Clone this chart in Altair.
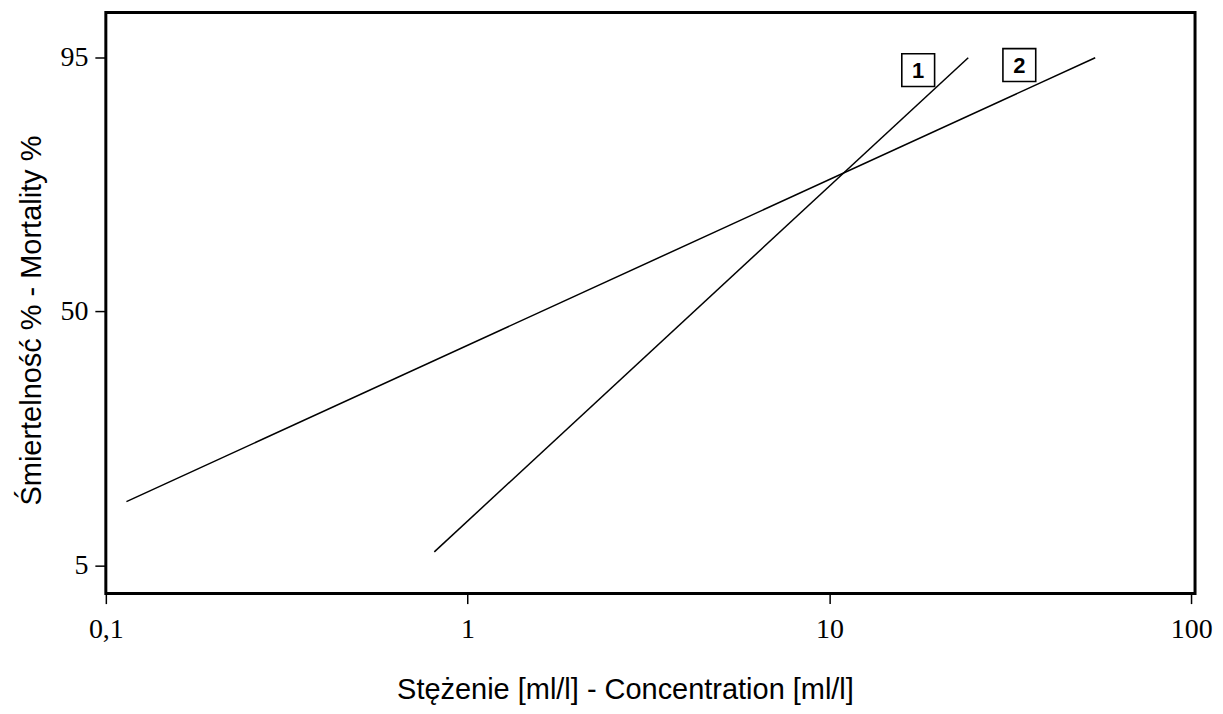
import altair as alt
import pandas as pd

# Data
series = ["1", "1", "2", "2"]
conc = [0.809, 24.2, 0.114, 54.3]
mortality = [7.4, 95.0, 16.3, 95.0]

label_text = ["1", "2"]
label_conc = [17.6, 33.5]
label_mort = [92.8, 93.7]

x_ticks = [0.1, 1, 10, 100]
y_ticks = [5, 50, 95]

lines_df = pd.DataFrame({"series": series, "conc": conc, "mortality": mortality})
labels_df = pd.DataFrame({"text": label_text, "conc": label_conc, "mortality": label_mort})

xscale = alt.Scale(type="log", domain=[0.1, 102.5], nice=False)
yscale = alt.Scale(domain=[0, 103], nice=False, zero=False)

x_axis = alt.Axis(
    title="Stężenie [ml/l] - Concentration [ml/l]",
    values=x_ticks,
    labelExpr="replace(toString(datum.value), '.', ',')",
    grid=False, domain=False,
    tickSize=10, tickWidth=1.5, tickColor="black",
    labelFont="Liberation Serif", labelFontSize=28, labelColor="black",
    labelPadding=12, labelFlush=False, labelOverlap=False,
    titleFont="Liberation Sans", titleFontSize=29, titleFontWeight="normal",
    titleColor="black", titlePadding=32, titleX=520, titleAlign="center",
)
y_axis = alt.Axis(
    title="Śmiertelność % - Mortality %",
    values=y_ticks,
    grid=False, domain=False,
    tickSize=11, tickWidth=1.5, tickColor="black",
    labelFont="Liberation Serif", labelFontSize=28, labelColor="black",
    labelPadding=7, labelOverlap=False,
    titleFont="Liberation Sans", titleFontSize=29, titleFontWeight="normal",
    titleColor="black", titlePadding=13, titleY=308, titleAlign="center",
)

lines = alt.Chart(lines_df).mark_line(color="black", strokeWidth=1.5).encode(
    x=alt.X("conc:Q", scale=xscale, axis=x_axis),
    y=alt.Y("mortality:Q", scale=yscale, axis=y_axis),
    detail="series:N",
)

boxes = alt.Chart(labels_df).mark_point(
    shape="square", size=1080, filled=True, fill="white", stroke="black", strokeWidth=1.6, opacity=1
).encode(
    x=alt.X("conc:Q", scale=xscale),
    y=alt.Y("mortality:Q", scale=yscale),
)

texts = alt.Chart(labels_df).mark_text(
    font="Liberation Sans", fontSize=22, fontWeight="bold", color="black", baseline="middle", align="center", dy=1
).encode(
    x=alt.X("conc:Q", scale=xscale),
    y=alt.Y("mortality:Q", scale=yscale),
    text="text:N",
)

chart = alt.layer(lines, boxes, texts).properties(
    width=1091,
    height=582,
    autosize=alt.AutoSizeParams(type="none"),
    padding={"left": 98, "top": 4, "right": 20, "bottom": 112},
).configure(
    background="white"
).configure_view(
    stroke="black", strokeWidth=3
)

chart.save("out.html", embed_options={"renderer": "svg", "actions": False})
